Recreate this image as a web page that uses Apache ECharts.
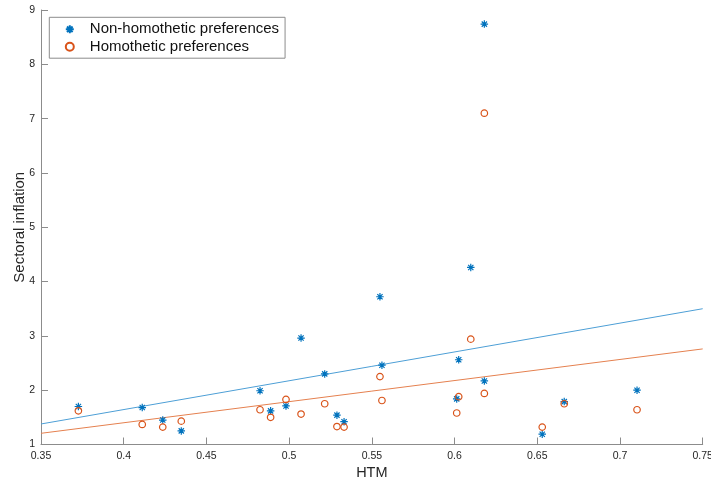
<!DOCTYPE html>
<html>
<head>
<meta charset="utf-8">
<script src="https://cdn.jsdelivr.net/npm/echarts@6/dist/echarts.min.js"></script>
<style>
  html, body { margin: 0; padding: 0; background: #fff; }
  #chart { width: 711px; height: 482px; }
</style>
</head>
<body>
<div id="chart"></div>
<script>
// 数据：HTM 与部门通胀
const htmNonHom = [0.3726, 0.4112, 0.4236, 0.4348, 0.4824, 0.4888, 0.4981, 0.5072, 0.5215, 0.5289, 0.5332,
                   0.5549, 0.5561, 0.6013, 0.6025, 0.6098, 0.618, 0.618, 0.653, 0.6663, 0.7103];
const inflNonHom = [1.70, 1.68, 1.45, 1.25, 1.99, 1.62, 1.71, 2.96, 2.30, 1.54, 1.42,
                    3.72, 2.46, 1.84, 2.56, 4.26, 2.17, 8.74, 1.19, 1.79, 2.00];

const htmHom = [0.3726, 0.4112, 0.4236, 0.4348, 0.4824, 0.4888, 0.4981, 0.5072, 0.5215, 0.5289, 0.5332,
                0.5549, 0.5561, 0.6013, 0.6025, 0.6098, 0.618, 0.618, 0.653, 0.6663, 0.7103];
const inflHom = [1.62, 1.37, 1.32, 1.43, 1.64, 1.50, 1.83, 1.56, 1.75, 1.33, 1.32,
                 2.25, 1.81, 1.58, 1.88, 2.94, 1.94, 7.10, 1.32, 1.75, 1.64];

// 拟合线端点
const fitX = [0.35, 0.75];
const fitNonHom = [1.378, 3.50];
const fitHom = [1.206, 2.76];

const seriesNames = ['Non-homothetic preferences', 'Homothetic preferences'];

const BLUE = '#0072BD';
const ORANGE = '#D95319';
const ASTERISK = 'path://M5 0 L5 10 M0 5 L10 5 M1.5 1.5 L8.5 8.5 M8.5 1.5 L1.5 8.5';

const zip = (xs, ys) => xs.map((x, i) => [x, ys[i]]);

const chart = echarts.init(document.getElementById('chart'));

const axisGray = '#8c8c8c';
const labelColor = '#262626';
const font = 'Liberation Sans, Arial, Helvetica, sans-serif';

const option = {
    animation: false,
    textStyle: { fontFamily: font },
    grid: { left: 41, right: 8.3, top: 10, bottom: 37.5, outerBoundsMode: 'none', containLabel: false },
    legend: {
        orient: 'vertical',
        left: 49.3,
        top: 17.3,
        padding: [3.5, 6, 3, 15.5],
        itemWidth: 30,
        itemHeight: 8,
        itemGap: 0.4,
        borderColor: axisGray,
        borderWidth: 1,
        backgroundColor: '#fff',
        textStyle: { fontSize: 15, lineHeight: 17, color: '#111', fontFamily: font },
        data: [
            { name: seriesNames[0], icon: ASTERISK },
            { name: seriesNames[1], icon: 'circle' }
        ],
        symbolKeepAspect: true
    },
    xAxis: {
        type: 'value',
        min: 0.35,
        max: 0.75,
        interval: 0.05,
        name: 'HTM',
        nameLocation: 'middle',
        nameGap: 21,
        nameMoveOverlap: false,
        nameTextStyle: { fontSize: 14.5, color: labelColor, fontFamily: font },
        splitLine: { show: false },
        axisLine: { lineStyle: { color: axisGray, width: 1 } },
        axisTick: { inside: true, length: 7, lineStyle: { color: axisGray } },
        axisLabel: {
            fontSize: 10.5, color: labelColor, margin: 6,
            formatter: v => String(+v.toFixed(2))
        }
    },
    yAxis: {
        type: 'value',
        min: 1,
        max: 9,
        interval: 1,
        name: 'Sectoral inflation',
        nameLocation: 'middle',
        nameGap: 14,
        nameMoveOverlap: false,
        nameTextStyle: { fontSize: 15, color: labelColor, fontFamily: font },
        splitLine: { show: false },
        axisLine: { show: true, lineStyle: { color: axisGray, width: 1 } },
        axisTick: { show: true, inside: true, length: 7, lineStyle: { color: axisGray } },
        axisLabel: { fontSize: 10.5, color: labelColor, margin: 6 }
    },
    series: [
        {
            name: seriesNames[0],
            type: 'scatter',
            symbol: ASTERISK,
            symbolSize: 7.5,
            symbolKeepAspect: true,
            itemStyle: { color: BLUE, borderColor: BLUE, borderWidth: 1.2, opacity: 1 },
            data: zip(htmNonHom, inflNonHom),
            z: 3
        },
        {
            name: seriesNames[1],
            type: 'scatter',
            symbol: 'circle',
            symbolSize: 6.5,
            symbolKeepAspect: true,
            itemStyle: { color: 'rgba(0,0,0,0)', borderColor: ORANGE, borderWidth: 1.2, opacity: 1 },
            data: zip(htmHom, inflHom),
            z: 4
        },
        {
            name: 'fit-nonhom',
            type: 'line',
            data: zip(fitX, fitNonHom),
            showSymbol: false,
            lineStyle: { color: '#4d9fd6', width: 1 },
            silent: true,
            z: 2
        },
        {
            name: 'fit-hom',
            type: 'line',
            data: zip(fitX, fitHom),
            showSymbol: false,
            lineStyle: { color: '#e5804f', width: 1 },
            silent: true,
            z: 2
        }
    ]
};

chart.setOption(option);
</script>
</body>
</html>
